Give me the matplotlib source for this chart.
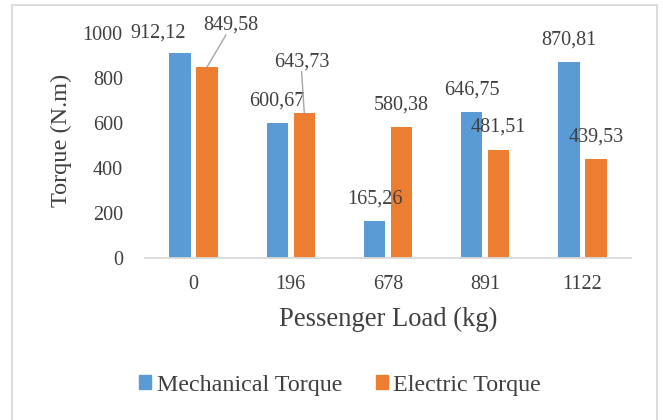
import matplotlib
matplotlib.use("Agg")
import matplotlib.pyplot as plt
from matplotlib.patches import Rectangle, Patch
import numpy as np

plt.rcParams['font.family'] = ['Liberation Serif', 'DejaVu Serif']

loads = ["0", "196", "678", "891", "1122"]
mechanical = [912.12, 600.67, 165.26, 646.75, 870.81]
electric = [849.58, 643.73, 580.38, 481.51, 439.53]
yticks = [0, 200, 400, 600, 800, 1000]

BLUE = "#5B9BD5"
ORANGE = "#ED7D31"
TEXT = "#404040"
GRID = "#D9D9D9"

W, H = 663, 420
fig = plt.figure(figsize=(W / 100, H / 100), dpi=100)
fig.patch.set_facecolor("white")

# chart frame
fig.add_artist(Rectangle((12 / W, -0.01), (657 - 12) / W, 1.01 - 5 / H,
                         transform=fig.transFigure, fill=False,
                         ec=GRID, lw=1.3))

ax = fig.add_axes([145 / W, 1 - 258 / H, (631 - 145) / W, (258 - 33) / H])
x = np.arange(len(loads))
bw = 0.22
off = 0.139
ax.bar(x - off, mechanical, bw, color=BLUE, label="Mechanical Torque")
ax.bar(x + off, electric, bw, color=ORANGE, label="Electric Torque")

ax.set_xlim(-0.5, len(loads) - 0.5)
ax.set_ylim(0, 1000)
ax.set_yticks(yticks)
ax.set_yticklabels([str(v) for v in yticks])
ax.set_xticks(x)
ax.set_xticklabels(loads)
ax.tick_params(length=0, labelsize=14.5, labelcolor=TEXT)
ax.tick_params(axis='y', pad=16)
ax.tick_params(axis='x', pad=12.5)
for s in ["top", "right", "left"]:
    ax.spines[s].set_visible(False)
ax.spines["bottom"].set_color(GRID)
ax.spines["bottom"].set_linewidth(1.3)

def fmt(v):
    return f"{v:.2f}".replace(".", ",")

# value labels (offsets in points from bar top)
label_offsets = {
    ("m", 0): (-16, 14),
    ("e", 0): (17, 30),
    ("e", 1): (-2, 37),
}
leaders = {("e", 0), ("e", 1)}
for key, vals, xs in (("m", mechanical, x - off), ("e", electric, x + off)):
    for i, (xi, v) in enumerate(zip(xs, vals)):
        dx, dy = label_offsets.get((key, i), (0, 16))
        ax.annotate(fmt(v), (xi, v), xytext=(dx, dy), textcoords="offset points",
                    ha="center", va="center", fontsize=14.5, color=TEXT)
        if (key, i) in leaders:
            ax.annotate("", (xi, v), xytext=(dx * (0.8 if dx > 5 else 1), dy - 7),
                        textcoords="offset points",
                        arrowprops=dict(arrowstyle="-", color="#A6A6A6", lw=1,
                                        shrinkA=0, shrinkB=0))

fig.text(61 / W, 1 - 140 / H, "Torque (N.m)", rotation=90, ha="center",
         va="center", fontsize=17.5, color=TEXT)
fig.text(388 / W, 1 - 319 / H, "Pessenger Load (kg)", ha="center",
         va="center", fontsize=19.2, color=TEXT)

handles = [Patch(color=BLUE, label="Mechanical Torque"),
           Patch(color=ORANGE, label="Electric Torque")]
leg = fig.legend(handles=handles, loc="center", bbox_to_anchor=(340 / W, 1 - 385 / H),
                 ncol=2, frameon=False, fontsize=17.3, handlelength=0.5,
                 handleheight=0.5, handletextpad=0.22, columnspacing=1.4,
                 borderpad=0)
for t in leg.get_texts():
    t.set_color(TEXT)

fig.savefig("out.png", dpi=100)
